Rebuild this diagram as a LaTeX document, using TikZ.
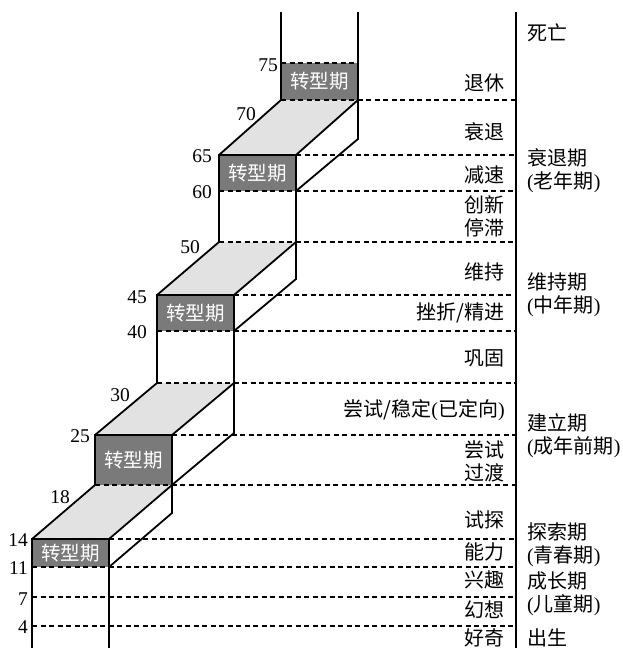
\documentclass[tikz,border=0pt]{standalone}
\usepackage{fontspec}
\setmainfont{Liberation Serif}
\newfontfamily\cjk{Noto Sans CJK SC}
\definecolor{topgray}{HTML}{E2E2E2}
\definecolor{boxgray}{HTML}{7A7A7A}
\newcommand{\lp}{{\rmfamily(}}
\newcommand{\rp}{{\rmfamily)}}
\begin{document}
\begin{tikzpicture}[x=1pt,y=-1pt,
  solidline/.style={black, line width=1.8pt, line join=miter},
  dashline/.style={black, line width=1.1pt, dash pattern=on 5pt off 3.5pt},
  topface/.style={fill=topgray, draw=none},
  graybox/.style={fill=boxgray, draw=none},
  boxtext/.style={text=white, font=\cjk\fontsize{19.5}{19.5}\selectfont, inner sep=0pt},
  age/.style={font=\fontsize{19.5}{19.5}\selectfont, anchor=east, inner sep=0pt},
  sublabel/.style={font=\cjk\fontsize{20}{23}\selectfont, anchor=east, align=right, inner sep=0pt},
  stagelabel/.style={font=\cjk\fontsize{20}{23}\selectfont, anchor=west, align=left, inner sep=0pt}]
\useasboundingbox (0,0) rectangle (622,648);

% ---- top faces (light gray parallelograms)
\fill[topface] (32,539) -- (109,539) -- (172,485) -- (95,485) -- cycle;
\fill[topface] (95,435) -- (172,435) -- (234,383) -- (157,383) -- cycle;
\fill[topface] (157,295) -- (234,295) -- (296,242) -- (219,242) -- cycle;
\fill[topface] (219,155) -- (296,155) -- (358,100) -- (281,100) -- cycle;

% ---- gray transition boxes
\fill[graybox] (32,539) rectangle (109,567);
\fill[graybox] (95,435) rectangle (172,485);
\fill[graybox] (157,295) rectangle (234,331);
\fill[graybox] (219,155) rectangle (296,191);
\fill[graybox] (281,63) rectangle (358,100);

% ---- dashed age lines
\draw[dashline] (281,63) -- (358,63);
\draw[dashline] (281,100) -- (516,100);
\draw[dashline] (296,155) -- (516,155);
\draw[dashline] (219,191) -- (516,191);
\draw[dashline] (219,242) -- (516,242);
\draw[dashline] (234,295) -- (516,295);
\draw[dashline] (157,331) -- (516,331);
\draw[dashline] (157,383) -- (516,383);
\draw[dashline] (172,435) -- (516,435);
\draw[dashline] (95,485) -- (516,485);
\draw[dashline] (109,539) -- (516,539);
\draw[dashline] (32,567) -- (516,567);
\draw[dashline] (32,597) -- (516,597);
\draw[dashline] (32,626) -- (516,626);

% ---- solid edges of the staircase
% step 1
\draw[solidline] (32,648) -- (32,539) -- (109,539) -- (109,648);
\draw[solidline] (32,539) -- (95,485);
\draw[solidline] (109,539) -- (172,485) -- (172,513) -- (109,567);
% step 2
\draw[solidline] (95,485) -- (95,435) -- (172,435) -- (172,485);
\draw[solidline] (95,435) -- (157,383);
\draw[solidline] (172,435) -- (234,383) -- (234,433) -- (172,485);
% step 3
\draw[solidline] (157,383) -- (157,295) -- (234,295) -- (234,383);
\draw[solidline] (157,295) -- (219,242);
\draw[solidline] (234,295) -- (296,242) -- (296,279) -- (234,331);
% step 4
\draw[solidline] (219,242) -- (219,155) -- (296,155) -- (296,242);
\draw[solidline] (219,155) -- (281,100);
\draw[solidline] (296,155) -- (358,100) -- (358,139) -- (296,191);
% step 5
\draw[solidline] (281,100) -- (281,12);
\draw[solidline] (358,100) -- (358,12);
% axis
\draw[solidline] (516,12) -- (516,648);

% ---- transition labels
\node[boxtext] (t1) at (70.5,553) {转型期};
\node[boxtext] (t2) at (133.5,460) {转型期};
\node[boxtext] (t3) at (195.5,313) {转型期};
\node[boxtext] (t4) at (257.5,173) {转型期};
\node[boxtext] (t5) at (319.5,81.5) {转型期};

% ---- ages
\node[age] (a75) at (278,65) {75};
\node[age] (a70) at (256,114) {70};
\node[age] (a65) at (212,156) {65};
\node[age] (a60) at (212,192) {60};
\node[age] (a50) at (200,247) {50};
\node[age] (a45) at (147,297) {45};
\node[age] (a40) at (147,332) {40};
\node[age] (a30) at (130,395) {30};
\node[age] (a25) at (90,436) {25};
\node[age] (a18) at (70,497) {18};
\node[age] (a14) at (28,540) {14};
\node[age] (a11) at (28,568) {11};
\node[age] (a7) at (28,599) {7};
\node[age] (a4) at (28,627) {4};

% ---- sub-stage labels
\node[sublabel] (s1) at (505,83) {退休};
\node[sublabel] (s2) at (505,132) {衰退};
\node[sublabel] (s3) at (505,175) {减速};
\node[sublabel] (s4) at (505,216.5) {创新\\停滞};
\node[sublabel] (s5) at (505,272) {维持};
\node[sublabel] (s6) at (505,313) {挫折/精进};
\node[sublabel] (s7) at (505,358) {巩固};
\node[sublabel] (s8) at (505,410) {尝试/稳定\lp 已定向\rp};
\node[sublabel] (s9) at (505,461.5) {尝试\\过渡};
\node[sublabel] (s10) at (505,520) {试探};
\node[sublabel] (s11) at (505,552) {能力};
\node[sublabel] (s12) at (505,580) {兴趣};
\node[sublabel] (s13) at (505,610) {幻想};
\node[sublabel] (s14) at (505,638) {好奇};

% ---- stage labels
\node[stagelabel] (p1) at (527,33) {死亡};
\node[stagelabel] (p2) at (527,170.5) {衰退期\\\lp 老年期\rp};
\node[stagelabel] (p3) at (527,294.5) {维持期\\\lp 中年期\rp};
\node[stagelabel] (p4) at (527,435.5) {建立期\\\lp 成年前期\rp};
\node[stagelabel] (p5) at (527,544.5) {探索期\\\lp 青春期\rp};
\node[stagelabel] (p6) at (527,593.5) {成长期\\\lp 儿童期\rp};
\node[stagelabel] (p7) at (527,638) {出生};
\end{tikzpicture}
\end{document}
